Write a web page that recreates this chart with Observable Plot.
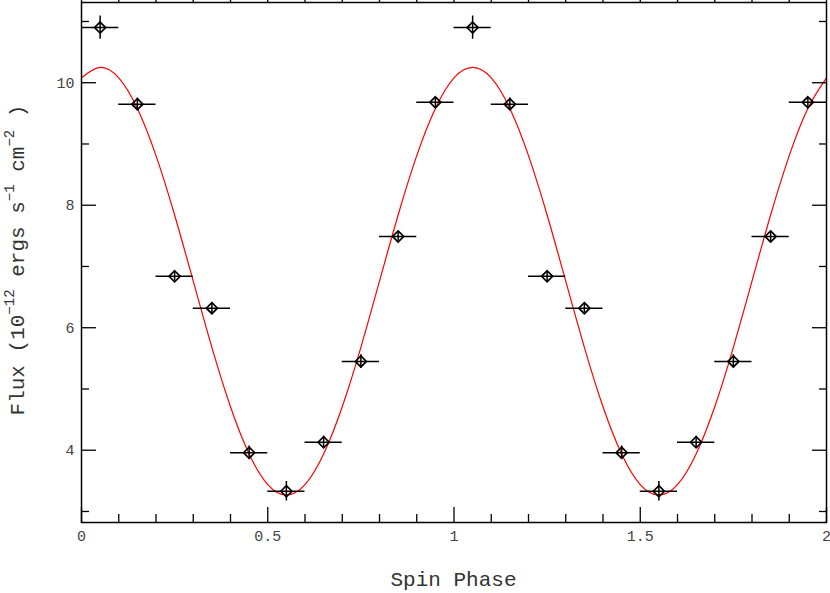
<!DOCTYPE html>
<html><head><meta charset="utf-8">
<script src="https://cdn.jsdelivr.net/npm/d3@7"></script>
<script src="https://cdn.jsdelivr.net/npm/@observablehq/plot@0.6"></script>
<style>body{margin:0;background:#fff}</style>
</head><body><div id="chart"></div>
<script>
const phase = [0.05,0.15,0.25,0.35,0.45,0.55,0.65,0.75,0.85,0.95,1.05,1.15,1.25,1.35,1.45,1.55,1.65,1.75,1.85,1.95];
const flux = [10.90,9.65,6.84,6.32,3.96,3.33,4.13,5.45,7.49,9.68,10.90,9.65,6.84,6.32,3.96,3.33,4.13,5.45,7.49,9.68];
const fluxErr = [0.19,0.10,0.08,0.08,0.11,0.16,0.10,0.11,0.08,0.08,0.19,0.10,0.08,0.08,0.11,0.16,0.10,0.11,0.08,0.08];
const phaseHalfWidth = [0.05,0.05,0.05,0.05,0.05,0.05,0.05,0.05,0.05,0.05,0.05,0.05,0.05,0.05,0.05,0.05,0.05,0.05,0.05,0.05];
const modelPhase = [0,0.05,0.1,0.15,0.2,0.25,0.3,0.35,0.4,0.45,0.5,0.55,0.6,0.65,0.7,0.75,0.8,0.85,0.9,0.95,1,1.05,1.1,1.15,1.2,1.25,1.3,1.35,1.4,1.45,1.5,1.55,1.6,1.65,1.7,1.75,1.8,1.85,1.9,1.95,2];
const modelFlux = [10.08,10.25,10.08,9.58,8.81,7.84,6.76,5.68,4.71,3.94,3.44,3.27,3.44,3.94,4.71,5.68,6.76,7.84,8.81,9.58,10.08,10.25,10.08,9.58,8.81,7.84,6.76,5.68,4.71,3.94,3.44,3.27,3.44,3.94,4.71,5.68,6.76,7.84,8.81,9.58,10.08];
const xMajorTicks = [0,0.5,1,1.5,2];
const xMinorTicks = [0.1,0.2,0.3,0.4,0.6,0.7,0.8,0.9,1.1,1.2,1.3,1.4,1.6,1.7,1.8,1.9];
const yMajorTicks = [4,6,8,10];
const yMinorTicks = [3,5,7,9,11];

const points = phase.map((p, i) => ({x: p, y: flux[i], e: fluxErr[i], w: phaseHalfWidth[i]}));
const model = modelPhase.map((p, i) => ({x: p, y: modelFlux[i]}));

const tickCommon = {fill: "none", label: null, stroke: "black", strokeWidth: 1.3};
const labelCommon = {tickSize: 0, label: null, fill: "#444", fontSize: 15, tickFormat: d => String(d)};

const plot = Plot.plot({
  width: 830,
  height: 593,
  marginLeft: 81,
  marginRight: 4,
  marginTop: 2,
  marginBottom: 71,
  style: {fontFamily: "'Liberation Mono', 'DejaVu Sans Mono', monospace", background: "#fff"},
  x: {domain: [0, 2]},
  y: {domain: [2.82, 11.31]},
  marks: [
    Plot.line(model, {x: "x", y: "y", stroke: "#ff0000", strokeWidth: 1.2, curve: "natural"}),
    Plot.ruleY(points, {y: "y", x1: d => d.x - d.w, x2: d => d.x + d.w, stroke: "black", strokeWidth: 1.5}),
    Plot.ruleX(points, {x: "x", y1: d => d.y - d.e, y2: d => d.y + d.e, stroke: "black", strokeWidth: 1.5}),
    Plot.dot(points, {x: "x", y: "y", symbol: "diamond2", r: 5, stroke: "black", fill: "none", strokeWidth: 1.7}),
    Plot.axisX(xMajorTicks, {anchor: "bottom", tickSize: -15, ...tickCommon}),
    Plot.axisX(xMinorTicks, {anchor: "bottom", tickSize: -8, ...tickCommon}),
    Plot.axisX(xMajorTicks, {anchor: "top", tickSize: 15, ...tickCommon}),
    Plot.axisX(xMinorTicks, {anchor: "top", tickSize: 8, ...tickCommon}),
    Plot.axisY(yMajorTicks, {anchor: "left", tickSize: -15, ...tickCommon}),
    Plot.axisY(yMinorTicks, {anchor: "left", tickSize: -8, ...tickCommon}),
    Plot.axisY(yMajorTicks, {anchor: "right", tickSize: -15, ...tickCommon}),
    Plot.axisY(yMinorTicks, {anchor: "right", tickSize: -8, ...tickCommon}),
    Plot.axisX(xMajorTicks, {anchor: "bottom", tickPadding: 8, ...labelCommon}),
    Plot.axisY(yMajorTicks, {anchor: "left", tickPadding: 7, ...labelCommon}),
    Plot.frame({stroke: "black", strokeWidth: 1.5})
  ]
});

const svg = d3.select(plot);
svg.append("text")
  .attr("x", 453.5).attr("y", 586)
  .attr("text-anchor", "middle")
  .attr("font-size", 21)
  .attr("fill", "#333")
  .text("Spin Phase");

const yl = svg.append("text")
  .attr("transform", "translate(24,260) rotate(-90)")
  .attr("text-anchor", "middle")
  .attr("font-size", 21)
  .attr("fill", "#333");
const parts = [["Flux (10", 0], ["\u221212", 1], [" ergs s", 0], ["\u22121", 1], [" cm", 0], ["\u22122", 1], [" )", 0]];
let prevSup = 0;
for (const [t, sup] of parts) {
  const dy = sup === prevSup ? 0 : (sup ? -10 : 10);
  yl.append("tspan").attr("dy", dy).attr("font-size", sup ? 14 : 21).text(t);
  prevSup = sup;
}
document.getElementById("chart").appendChild(plot);
</script>
</body></html>
